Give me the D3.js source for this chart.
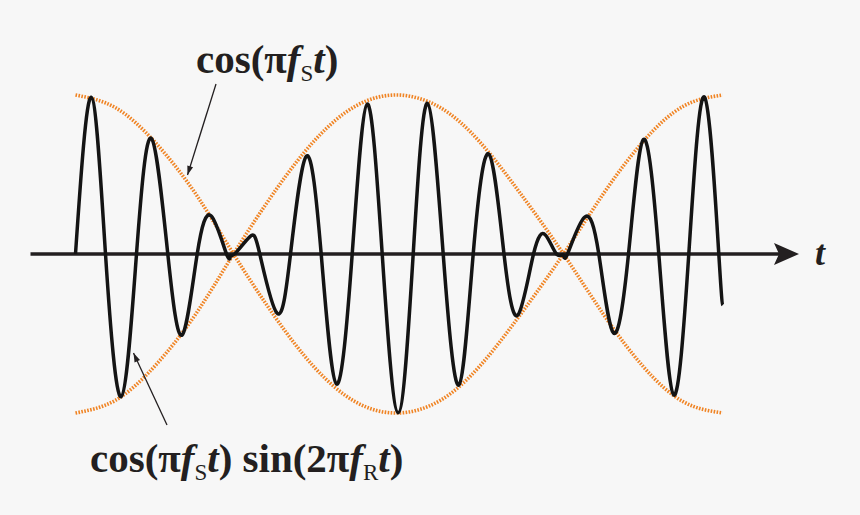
<!DOCTYPE html>
<html>
<head>
<meta charset="utf-8">
<script src="https://cdn.jsdelivr.net/npm/d3@7"></script>
<style>
  body { margin: 0; background: #f7f7f7; }
  svg { display: block; }
</style>
</head>
<body>
<svg width="860" height="515"></svg>
<script>
// signal nodes: t (px from the start) and value (-1..1)
let signalT = [0, 15.7, 30, 45.7, 61, 75.7, 92.3, 106.7, 121.7, 135.7, 151, 155, 159,
  174.5, 184.3, 201.7, 215, 231, 245.7, 261, 276.7, 291.7, 306.7, 322.7, 337.7,
  352, 367.7, 383.3, 397.7, 413.3, 428.5, 442.3, 458, 470, 481, 487.7, 492,
  509, 523.3, 538, 553, 568, 583.3, 598.3, 613.3, 629, 643.3, 647.3]
let signalV = [0, 0.986, 0, -0.897, 0, 0.728, 0, -0.509, 0, 0.239, 0, -0.011, 0,
  0.109, 0, -0.373, 0, 0.616, 0, -0.818, 0, 0.943, 0, -0.998, 0,
  0.947, 0, -0.824, 0, 0.629, 0, -0.384, 0, 0.119, 0, -0.006, 0,
  0.231, 0, -0.497, 0, 0.721, 0, -0.887, 0, 0.986, 0, -0.321]

// envelope cos(pi fs t), read at a few places
let envT = [0, 40, 80, 120, 158, 200, 240, 280, 322, 365, 405, 445, 488, 528, 568, 608, 647]
let envV = [1, 0.92, 0.70, 0.38, 0, -0.40, -0.72, -0.93, -1, -0.92, -0.70, -0.38, 0, 0.38, 0.71, 0.93, 1]

let axisExtent = [-45, 723]

let svg = d3.select("svg")

let x = d3.scaleLinear().domain([0, 647]).range([75.5, 722.5])
let y = d3.scaleLinear().domain([-1, 1]).range([413, 95])

svg.append("rect")
  .attr("width", 860)
  .attr("height", 515)
  .style("fill", "#f7f7f7")

let line = d3.line()
  .x(d => x(d[0]))
  .y(d => y(d[1]))
  .curve(d3.curveNatural)

let upper = envT.map((t, i) => [t, envV[i]])
let lower = envT.map((t, i) => [t, -envV[i]])

;[upper, lower].forEach(pts => {
  svg.append("path")
    .attr("d", line(pts))
    .style("fill", "none")
    .style("stroke", "#f08424")
    .style("stroke-width", 3.6)
    .style("stroke-dasharray", "1.6,1.4")
})

// axis
svg.append("line")
  .attr("x1", x(axisExtent[0]))
  .attr("x2", x(axisExtent[1]) - 8)
  .attr("y1", y(0))
  .attr("y2", y(0))
  .style("stroke", "#231f20")
  .style("stroke-width", 3.5)

let tipX = x(axisExtent[1]) + 0.5
svg.append("path")
  .attr("d", `M${tipX},${y(0)} L${tipX - 25},${y(0) - 11} L${tipX - 20},${y(0)} L${tipX - 25},${y(0) + 11} Z`)
  .style("fill", "#231f20")

let sig = signalT.map((t, i) => [t, signalV[i]])
svg.append("path")
  .attr("d", line(sig))
  .style("fill", "none")
  .style("stroke", "#141414")
  .style("stroke-width", 3.5)

// annotation arrows
let pointer = (x1, y1, x2, y2) => {
  svg.append("line")
    .attr("x1", x1).attr("y1", y1)
    .attr("x2", x2).attr("y2", y2)
    .style("stroke", "#231f20")
    .style("stroke-width", 1.3)
  let a = Math.atan2(y2 - y1, x2 - x1)
  let len = 9, w = 3
  let bx = x2 - len * Math.cos(a), by = y2 - len * Math.sin(a)
  svg.append("path")
    .attr("d", `M${x2},${y2} L${bx + w * Math.sin(a)},${by - w * Math.cos(a)} L${bx - w * Math.sin(a)},${by + w * Math.cos(a)} Z`)
    .style("fill", "#231f20")
}
pointer(216, 84, 187.5, 175)
pointer(167, 425, 133.5, 353)

let font = "'Liberation Serif', 'Times New Roman', serif"

let label = (px, py, parts) => {
  let t = svg.append("text")
    .attr("x", px)
    .attr("y", py)
    .style("font-family", font)
    .style("font-weight", "bold")
    .style("font-size", "41px")
    .style("fill", "#231f20")
  parts.forEach(p => {
    let s = t.append("tspan").text(p.s)
    if (p.i) s.style("font-style", "italic")
    if (p.sub) s.attr("dy", 8).style("font-size", "23px").style("font-weight", "normal")
    if (p.up) s.attr("dy", -8)
  })
}

label(196, 73, [
  {s: "cos("}, {s: "π", }, {s: "f", i: 1}, {s: "S", sub: 1}, {s: "t", i: 1, up: 1}, {s: ")"}
])

label(90, 472, [
  {s: "cos("}, {s: "π"}, {s: "f", i: 1}, {s: "S", sub: 1}, {s: "t", i: 1, up: 1}, {s: ") sin(2"},
  {s: "π"}, {s: "f", i: 1}, {s: "R", sub: 1}, {s: "t", i: 1, up: 1}, {s: ")"}
])

svg.append("text")
  .attr("x", 815)
  .attr("y", 265)
  .style("font-family", font)
  .style("font-weight", "bold")
  .style("font-style", "italic")
  .style("font-size", "36px")
  .style("fill", "#231f20")
  .text("t")
</script>
</body>
</html>
